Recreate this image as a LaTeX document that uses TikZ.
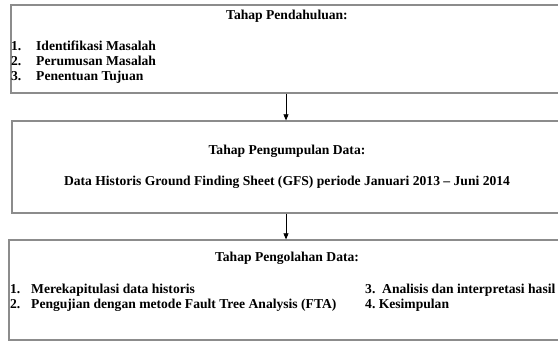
\documentclass[tikz,border=0pt]{standalone}
\usepackage{fontspec}
\setmainfont{Liberation Serif}
\usetikzlibrary{arrows.meta}
\begin{document}
\begin{tikzpicture}[x=1pt,y=-1pt,
  box/.style={draw=black!45,line width=1.3pt,fill=white,inner sep=0pt},
  txt/.style={font=\fontsize{13.6}{15}\selectfont\bfseries,inner sep=0pt},
  arr/.style={-{Triangle[length=6pt,width=5pt]},line width=0.6pt,black}]
\useasboundingbox (0,0) rectangle (558,341);
\clip (0,0) rectangle (558,341);
\node[box,minimum width=550pt,minimum height=88pt] (b1) at (286,49) {};
\node[box,minimum width=548pt,minimum height=92pt] (b2) at (286,167) {};
\node[box,minimum width=554pt,minimum height=100pt] (b3) at (286,290) {};
\draw[arr] (b1.south) -- (b2.north);
\draw[arr] (b2.south) -- (b3.north);
\node[txt] (t1) at (287,16) {Tahap Pendahuluan:};
\node[txt,anchor=west,align=left] (l1) at (11,62) {\makebox[25pt][l]{1.}Identifikasi Masalah\\\makebox[25pt][l]{2.}Perumusan Masalah\\\makebox[25pt][l]{3.}Penentuan Tujuan};
\node[txt] (t2) at (287,151) {Tahap Pengumpulan Data:};
\node[txt] (d2) at (287,182) {Data Historis Ground Finding Sheet (GFS) periode Januari 2013 -- Juni 2014};
\node[txt] (t3) at (287,258) {Tahap Pengolahan Data:};
\node[txt,anchor=west,align=left] (l3) at (10,298) {\makebox[21pt][l]{1.}Merekapitulasi data historis\\\makebox[21pt][l]{2.}Pengujian dengan metode Fault Tree Analysis (FTA)};
\node[txt,anchor=west,align=left] (r3) at (365,298) {3.~~Analisis dan interpretasi hasil\\4.~Kesimpulan};
\end{tikzpicture}
\end{document}
